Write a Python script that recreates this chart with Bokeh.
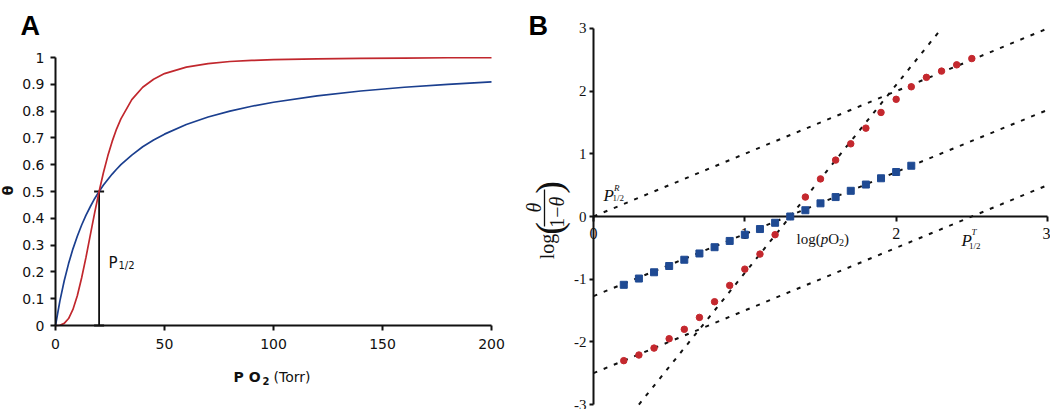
import math
from bokeh.plotting import figure
from bokeh.models import ColumnDataSource, FixedTicker, Label, Whisker, TeeHead, Arrow
from bokeh.layouts import row
from bokeh.embed import file_html
from bokeh.resources import INLINE

# ---------------- Panel A data ----------------
a_po2 = [0, 2, 4, 6, 8, 10, 12, 14, 16, 18, 20, 22, 24, 26, 28, 30, 35, 40, 45, 50,
         60, 70, 80, 90, 100, 120, 140, 160, 180, 200]
a_theta_blue = [0.0, 0.091, 0.167, 0.231, 0.286, 0.333, 0.375, 0.412, 0.444, 0.474, 0.5,
                0.524, 0.545, 0.565, 0.583, 0.6, 0.636, 0.667, 0.692, 0.714,
                0.75, 0.778, 0.8, 0.818, 0.833, 0.857, 0.875, 0.889, 0.9, 0.909]
a_theta_red = [0.0, 0.001, 0.008, 0.026, 0.06, 0.111, 0.178, 0.255, 0.339, 0.422, 0.5,
               0.571, 0.633, 0.687, 0.733, 0.771, 0.843, 0.889, 0.919, 0.94,
               0.964, 0.977, 0.985, 0.989, 0.992, 0.995, 0.997, 0.998, 0.999, 0.999]
a_xticks = [0, 50, 100, 150, 200]
a_xtick_labels = ["0", "50", "100", "150", "200"]
a_yticks = [0, 0.1, 0.2, 0.3, 0.4, 0.5, 0.6, 0.7, 0.8, 0.9, 1]
a_ytick_labels = ["0", "0.1", "0.2", "0.3", "0.4", "0.5", "0.6", "0.7", "0.8", "0.9", "1"]
a_p_half_x = [20]
a_p_half_lo = [0]
a_p_half_hi = [0.5]

# ---------------- Panel B data ----------------
b_logp_blue = [0.2, 0.3, 0.4, 0.5, 0.6, 0.7, 0.8, 0.9, 1.0, 1.1, 1.2, 1.3, 1.4, 1.5,
               1.6, 1.7, 1.8, 1.9, 2.0, 2.1]
b_hill_blue = [-1.09, -0.99, -0.89, -0.79, -0.69, -0.59, -0.49, -0.39, -0.29, -0.2,
               -0.1, 0.0, 0.1, 0.21, 0.31, 0.41, 0.51, 0.61, 0.71, 0.81]
b_logp_red = [0.2, 0.3, 0.4, 0.5, 0.6, 0.7, 0.8, 0.9, 1.0, 1.1, 1.2, 1.3, 1.4, 1.5,
              1.6, 1.7, 1.8, 1.9, 2.0, 2.1, 2.2, 2.3, 2.4, 2.5]
b_hill_red = [-2.3, -2.21, -2.1, -1.95, -1.8, -1.61, -1.36, -1.1, -0.84, -0.6, -0.29,
              0.0, 0.31, 0.6, 0.9, 1.16, 1.41, 1.66, 1.87, 2.07, 2.22, 2.32, 2.42, 2.52]
b_fit_x0 = [0.0, 0.0, 0.0, 0.30]
b_fit_y0 = [0.0, -1.27, -2.5, -3.0]
b_fit_x1 = [3.0, 3.0, 3.0, 2.30]
b_fit_y1 = [3.0, 1.70, 0.5, 3.0]
b_xticks = [0, 1, 2, 3]
b_xtick_labels = ["0", "1", "2", "3"]
b_yticks = [-3, -2, -1, 0, 1, 2, 3]
b_ytick_labels = ["-3", "-2", "-1", "0", "1", "2", "3"]

RED = "#c1272d"
BLUE = "#1b3f8f"
RED_M = "#c4282e"
BLUE_M = "#1f4a93"
INK = "#111111"
SANS = "DejaVu Sans"
SERIF = "Liberation Serif"

H = 409
WA = 520
WB = 530


def style_axis(ax, ticks, labels, font, size, tick_out, standoff, bounds, lw=2):
    ax.ticker = FixedTicker(ticks=ticks)
    ax.major_label_overrides = {t: l for t, l in zip(ticks, labels)}
    ax.major_label_text_font = font
    ax.major_label_text_font_size = size
    ax.major_label_text_color = INK
    ax.major_tick_out = tick_out
    ax.major_tick_in = 0
    ax.minor_tick_out = 0
    ax.minor_tick_in = 0
    ax.major_tick_line_color = INK
    ax.major_tick_line_width = lw
    ax.axis_line_color = INK
    ax.axis_line_width = lw
    ax.major_label_standoff = standoff
    ax.bounds = bounds


# ======================= Panel A =======================
# pixel geometry of the panel: x=0 at 55px, 2.18 px per Torr; y=0 at 325px, 268 px per unit
A_X0, A_XS, A_Y0, A_YS = 55.0, 2.18, 325.0, 268.0


def ax_(px):
    return (px - A_X0) / A_XS


def ay_(py):
    return (A_Y0 - py) / A_YS


pa = figure(width=WA, height=H, x_range=(ax_(0), ax_(WA)), y_range=(ay_(H), ay_(0)),
            output_backend="svg", toolbar_location=None,
            min_border=0, min_border_left=0, min_border_right=0,
            min_border_top=0, min_border_bottom=0)
pa.outline_line_color = None
pa.grid.visible = False

pa.line(a_po2, a_theta_blue, line_color=BLUE, line_width=1.7)
pa.line(a_po2, a_theta_red, line_color=RED, line_width=1.7)

style_axis(pa.xaxis[0], a_xticks, a_xtick_labels, SANS, "14px", 5, 8, (0, 200))
style_axis(pa.yaxis[0], a_yticks, a_ytick_labels, SANS, "14px", 5, 6, (0, 1))
pa.xaxis[0].fixed_location = 0
pa.yaxis[0].fixed_location = 0

src_w = ColumnDataSource(dict(x=a_p_half_x, lo=a_p_half_lo, hi=a_p_half_hi))
pa.add_layout(Whisker(source=src_w, base="x", lower="lo", upper="hi", dimension="height",
                      line_color=INK, line_width=1.8,
                      upper_head=TeeHead(size=10, line_color=INK, line_width=2),
                      lower_head=TeeHead(size=10, line_color=INK, line_width=2)))

# P1/2 label
pa.add_layout(Label(x=ax_(108), y=ay_(262), text="P", text_font=SANS, text_font_size="15px",
                    text_color=INK, text_baseline="alphabetic"))
pa.add_layout(Label(x=ax_(108), y=ay_(262), x_offset=10, y_offset=-3, text="1/2", text_font=SANS,
                    text_font_size="10px", text_color=INK, text_baseline="alphabetic"))

# axis titles
pa.add_layout(Label(x=ax_(7), y=ay_(190), text="θ", angle=math.pi / 2, text_font=SANS,
                    text_font_style="bold", text_font_size="14px", text_color=INK,
                    text_align="center", text_baseline="middle"))
pa.add_layout(Label(x=ax_(233), y=ay_(376), text="P O", text_font=SANS, text_font_style="bold",
                    text_font_size="14px", text_color=INK, text_baseline="middle"))
pa.add_layout(Label(x=ax_(233), y=ay_(376), x_offset=29, y_offset=-4, text="2", text_font=SANS,
                    text_font_style="bold", text_font_size="10px", text_color=INK,
                    text_baseline="middle"))
pa.add_layout(Label(x=ax_(233), y=ay_(376), x_offset=40, text="(Torr)", text_font=SANS,
                    text_font_size="14px", text_color=INK, text_baseline="middle"))

# panel letter
pa.add_layout(Label(x=ax_(20), y=ay_(25), text="A", text_font="Liberation Sans",
                    text_font_style="bold", text_font_size="27px", text_color="#000000",
                    text_baseline="alphabetic"))

# ======================= Panel B =======================
# pixel geometry (page coords): x=0 at 593px, 151.33 px/unit; y=0 at 216px, 62.67 px/unit
B_X0, B_XS, B_Y0, B_YS = 593.0, 151.33, 216.0, 62.67


def bx(px):
    return (px - B_X0) / B_XS


def by(py):
    return (B_Y0 - py) / B_YS


pb = figure(width=WB, height=H, x_range=(bx(WA), bx(WA + WB)), y_range=(by(H), by(0)),
            output_backend="svg", toolbar_location=None,
            min_border=0, min_border_left=0, min_border_right=0,
            min_border_top=0, min_border_bottom=0)
pb.outline_line_color = None
pb.grid.visible = False

style_axis(pb.xaxis[0], b_xticks, b_xtick_labels, SERIF, "16px", 5, 6, (0, 3))
style_axis(pb.yaxis[0], b_yticks, b_ytick_labels, SERIF, "15px", 4, 3, (-3, 3))
pb.xaxis[0].fixed_location = 0
pb.yaxis[0].fixed_location = 0

pb.segment(x0=b_fit_x0, y0=b_fit_y0, x1=b_fit_x1, y1=b_fit_y1, line_color=INK,
           line_width=2, line_dash="4 7")

r_red = pb.scatter(b_logp_red, b_hill_red, marker="circle", size=6.5, fill_color=RED_M,
                   line_color=RED_M)
r_blue = pb.scatter(b_logp_blue, b_hill_blue, marker="square", size=7, fill_color=BLUE_M,
                    line_color=BLUE_M)
r_red.level = "overlay"
r_blue.level = "overlay"

# P^R_{1/2}
pb.add_layout(Label(x=bx(603), y=by(195), text="P", text_font=SERIF, text_font_style="italic",
                    text_font_size="17px", text_color=INK, text_baseline="alphabetic"))
pb.add_layout(Label(x=bx(603), y=by(195), x_offset=10.5, y_offset=8, text="R", text_font=SERIF,
                    text_font_style="italic", text_font_size="9px", text_color=INK,
                    text_baseline="alphabetic"))
pb.add_layout(Label(x=bx(603), y=by(195), x_offset=9, y_offset=-2, text="1/2", text_font=SERIF,
                    text_font_size="9px", text_color=INK, text_baseline="alphabetic"))
# P^T_{1/2}
pb.add_layout(Label(x=bx(961), y=by(240), text="P", text_font=SERIF, text_font_style="italic",
                    text_font_size="17px", text_color=INK, text_baseline="alphabetic"))
pb.add_layout(Label(x=bx(961), y=by(240), x_offset=10, y_offset=9, text="T", text_font=SERIF,
                    text_font_style="italic", text_font_size="9px", text_color=INK,
                    text_baseline="alphabetic"))
pb.add_layout(Label(x=bx(961), y=by(240), x_offset=7.5, y_offset=-5, text="1/2", text_font=SERIF,
                    text_font_size="9px", text_color=INK, text_baseline="alphabetic"))

# x title: log(pO2)
xl_x, xl_y = bx(796), by(238)
for txt, off, yoff, style, size in [("log(", 0, 0, "normal", "15px"),
                                    ("p", 24.2, 0, "italic", "15px"),
                                    ("O", 31.7, 0, "normal", "15px"),
                                    ("2", 42.5, -4, "normal", "10px"),
                                    (")", 47.5, 0, "normal", "15px")]:
    pb.add_layout(Label(x=xl_x, y=xl_y, x_offset=off, y_offset=yoff, text=txt, text_font=SERIF,
                        text_font_style=style, text_font_size=size, text_color=INK,
                        text_baseline="middle"))

# y title: log( theta / (1 - theta) ), rotated
for txt, cx, cy, style, size in [("log", 546, 246, "normal", "20px"),
                                  ("(", 548, 228, "normal", "38px"),
                                  ("θ", 533, 207, "italic", "20px"),
                                  ("1−", 556, 216.5, "normal", "20px"),
                                  ("θ", 556, 201, "italic", "20px"),
                                  (")", 548, 187, "normal", "38px")]:
    pb.add_layout(Label(x=bx(cx), y=by(cy), text=txt, angle=math.pi / 2, text_font=SERIF,
                        text_font_style=style, text_font_size=size, text_color=INK,
                        text_align="center", text_baseline="middle"))
pb.add_layout(Arrow(start=None, end=None, x_start=bx(544), y_start=by(189), x_end=bx(544),
                    y_end=by(226), line_color=INK, line_width=1.3))

# panel letter
pb.add_layout(Label(x=bx(528), y=by(25), text="B", text_font="Liberation Sans",
                    text_font_style="bold", text_font_size="27px", text_color="#000000",
                    text_baseline="alphabetic"))

layout = row(pa, pb)
open("out.html", "w").write(file_html(layout, INLINE))
